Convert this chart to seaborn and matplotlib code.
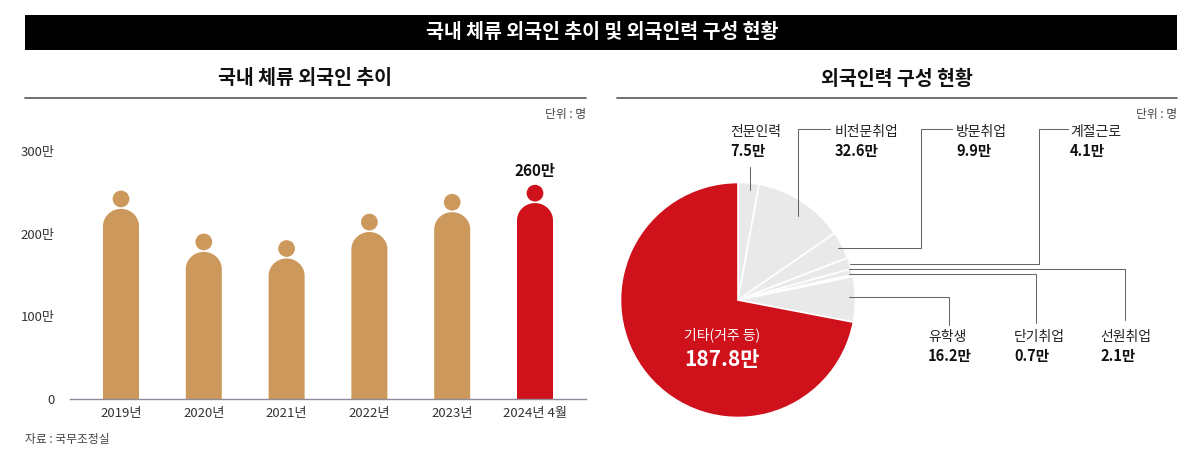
import numpy as np
import matplotlib
matplotlib.use("Agg")
import matplotlib.pyplot as plt
from matplotlib.path import Path
from matplotlib.patches import PathPatch, Rectangle
import seaborn as sns

years = ["2019년", "2020년", "2021년", "2022년", "2023년", "2024년 4월"]
residents = [253, 201, 193, 225, 249, 260]
slice_names = ["전문인력", "비전문취업", "방문취업", "계절근로", "선원취업", "단기취업", "유학생", "기타(거주 등)"]
slice_values = [7.5, 32.6, 9.9, 4.1, 2.1, 0.7, 16.2, 187.8]
y_ticks = [0, 100, 200, 300]
y_labels = ["0", "100만", "200만", "300만"]

TAN, RED, GREY = "#cc985c", "#cf111b", "#e9e9e9"
W, H = 1200, 473
sns.set_theme(style="white")
plt.rcParams["font.family"] = ["Noto Sans CJK KR", "DejaVu Sans"]
fig = plt.figure(figsize=(12, 4.73), dpi=100, facecolor="white")

def rect(l, t, r, b):
    return [l / W, 1 - b / H, (r - l) / W, (b - t) / H]

# bars
ax = fig.add_axes(rect(70, 151, 586, 399))
colors = [TAN] * 5 + [RED]
body = [v - 23 for v in residents]
head = [v - 11 for v in residents]
sns.barplot(x=years, y=body, hue=years, palette=colors, width=0.435, legend=False,
            saturation=1, ax=ax, dodge=False)
for bar, color in zip(list(ax.patches), colors):
    x0, w, h = bar.get_x(), bar.get_width(), bar.get_height()
    cap = 21.0
    t = np.linspace(np.pi, 0, 40)
    xs = x0 + w / 2 + w / 2 * np.cos(t)
    ys = h - cap + cap * np.sin(t)
    verts = [(x0, 0)] + list(zip(xs, ys)) + [(x0 + w, 0), (x0, 0)]
    ax.add_patch(PathPatch(Path(verts), facecolor=color, edgecolor="none", zorder=2))
    bar.remove()
sns.scatterplot(x=years, y=head, hue=years, palette=colors, s=145, linewidth=0,
                legend=False, ax=ax, zorder=3, clip_on=False)
ax.set_xlim(-0.616, 5.616)
ax.set_ylim(0, 300)
ax.set_yticks(y_ticks, y_labels)
ax.tick_params(axis="both", length=0, labelsize=9.5, labelcolor="#333333")
ax.tick_params(axis="y", pad=11)
ax.tick_params(axis="x", pad=6)
sns.despine(ax=ax, left=True)
ax.spines["bottom"].set_color("#8d8d9c")
ax.spines["bottom"].set_linewidth(1)
ax.set_xlabel("")
ax.set_ylabel("")
ax.patch.set_alpha(0)
ax.text(5, residents[5] + 6, "260만", ha="center", va="bottom", fontsize=11,
        fontweight="bold", color="#111111")

# pie
pax = fig.add_axes(rect(738 - 118, 300 - 118, 738 + 118, 300 + 118))
pax.pie(slice_values, startangle=90, counterclock=False, radius=1,
        colors=[GREY] * 7 + [RED],
        wedgeprops=dict(edgecolor="white", linewidth=1.2))
pax.set_xlim(-1.004, 1.004)
pax.set_ylim(-1.004, 1.004)
pax.set_aspect("equal")

# overlay in pixel coordinates
ov = fig.add_axes([0, 0, 1, 1], zorder=5)
ov.set_xlim(0, W)
ov.set_ylim(H, 0)
ov.axis("off")
ov.add_patch(Rectangle((25, 15), 1152, 35, facecolor="black", edgecolor="none"))
ov.text(602, 32.5, "국내 체류 외국인 추이 및 외국인력 구성 현황", color="white", ha="center",
        va="center", fontsize=14, fontweight="bold")
for cx, title, x0, x1 in [(305, "국내 체류 외국인 추이", 25, 586), (897, "외국인력 구성 현황", 617, 1177)]:
    ov.text(cx, 79, title, ha="center", va="center", fontsize=14, fontweight="bold", color="#111111")
    ov.plot([x0, x1], [98, 98], color="#666666", lw=1.3)
    ov.text(x1, 114, "단위 : 명", ha="right", va="center", fontsize=8.5, color="#444444")
ov.text(25, 439, "자료 : 국무조정실", ha="left", va="center", fontsize=8.5, color="#444444")

leaders = [
    ([749.5, 749.5], [167, 190]),
    ([830, 798, 798], [129, 129, 216]),
    ([952, 921, 921, 838], [129, 129, 248, 248]),
    ([1068, 1039, 1039, 850], [129, 129, 264, 264]),
    ([1125, 1125, 849], [320, 269, 269]),
    ([1036, 1036, 849], [323, 274, 274]),
    ([949, 949, 849], [325, 297, 297]),
]
for xs, ys in leaders:
    ov.plot(xs, ys, color="#666666", lw=0.75, solid_joinstyle="miter")

label_pos = {"전문인력": (730, 132), "비전문취업": (835, 132), "방문취업": (956, 132), "계절근로": (1070, 132),
             "유학생": (928, 337), "단기취업": (1014, 337), "선원취업": (1100, 337)}
for name, value in zip(slice_names, slice_values):
    if name in label_pos:
        x, y = label_pos[name]
        ov.text(x, y, name, ha="left", va="center", fontsize=10, color="#222222")
        ov.text(x, y + 18.5, f"{value}만", ha="left", va="center", fontsize=10.5,
                fontweight="bold", color="#111111")
ov.text(722, 335, slice_names[-1], ha="center", va="center", fontsize=10, color="white")
ov.text(722, 359, f"{slice_values[-1]}만", ha="center", va="center", fontsize=15,
        fontweight="bold", color="white")

fig.savefig("out.png", dpi=100, facecolor="white")
